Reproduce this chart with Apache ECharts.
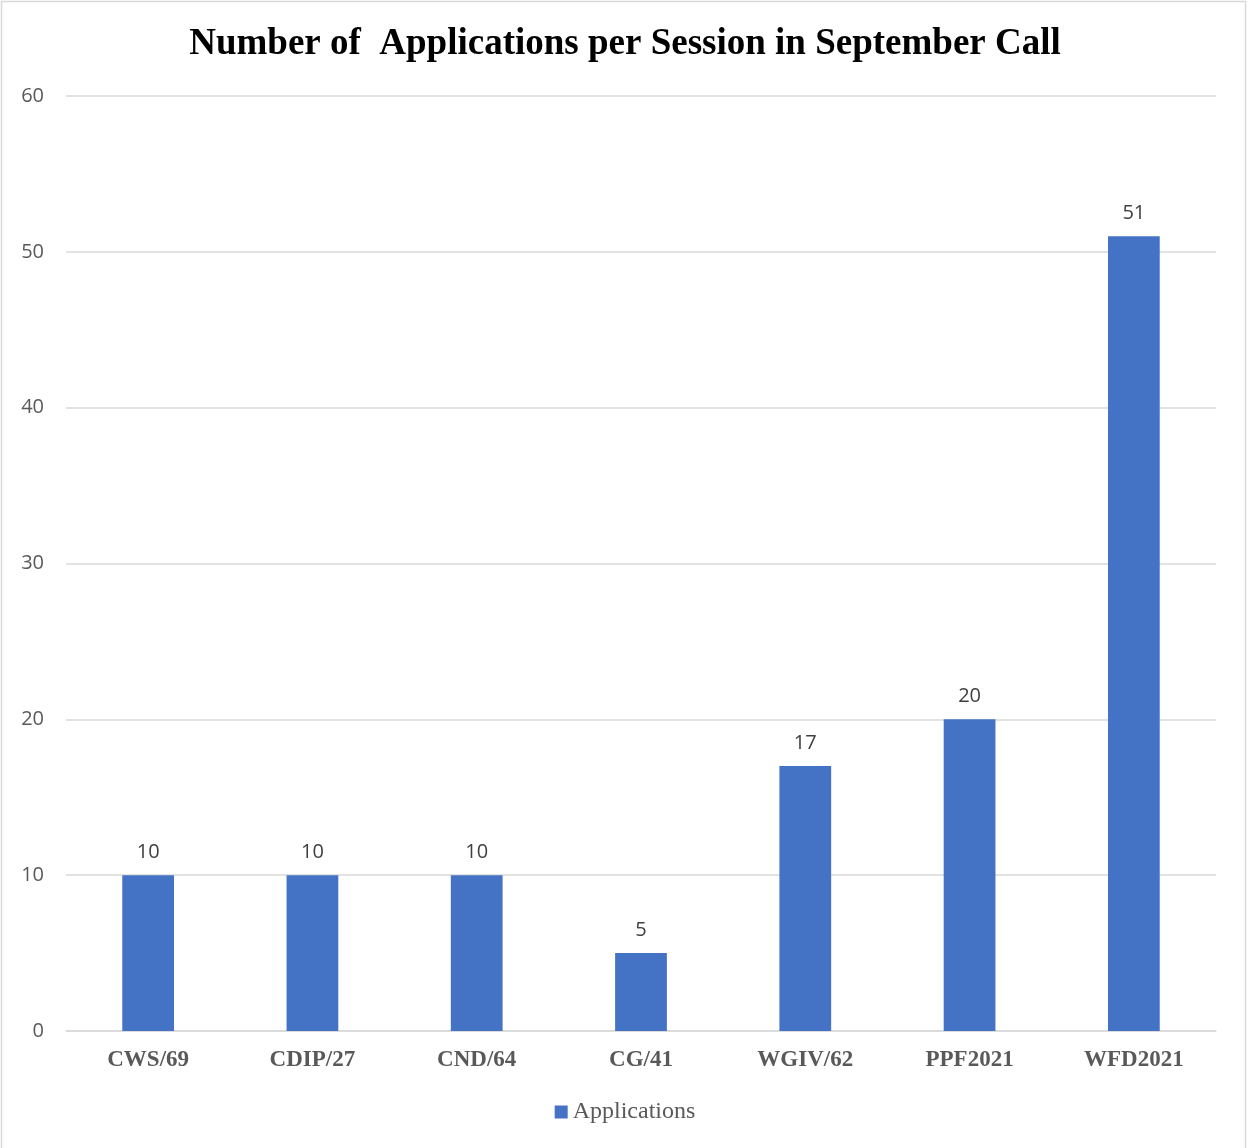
<!DOCTYPE html>
<html><head><meta charset="utf-8">
<script src="https://cdn.jsdelivr.net/npm/echarts@6/dist/echarts.min.js"></script>
<style>html,body{margin:0;padding:0;background:#fff}#c{width:1250px;height:1148px}</style>
</head><body><div id="c"></div>
<script>
const titleText = 'Number of  Applications per Session in September Call';
const categories = ['CWS/69','CDIP/27','CND/64','CG/41','WGIV/62','PPF2021','WFD2021'];
const seriesName = 'Applications';
const values = [10,10,10,5,17,20,51];
const yTicks = {min:0, max:60, interval:10};

const chart = echarts.init(document.getElementById('c'));
chart.setOption({
  animation:false,
  backgroundColor:'#fff',
  graphic:[{type:'rect',shape:{x:1.5,y:1.5,width:1244,height:1150},style:{fill:'none',stroke:'#d9d9d9',lineWidth:1.5},silent:true}],
  title:{text:titleText,left:'center',top:21,textStyle:{fontFamily:'Liberation Serif',fontWeight:'bold',fontSize:37,color:'#000'}},
  legend:{data:[seriesName],bottom:19,left:'center',itemWidth:13,itemHeight:13,itemGap:3,icon:'rect',
    textStyle:{fontFamily:'Liberation Serif',fontSize:24,color:'#595959'}},
  grid:{left:66,right:34,top:96,bottom:117},
  xAxis:{type:'category',data:categories,axisTick:{show:false},
    axisLine:{lineStyle:{color:'#d9d9d9',width:1.5}},
    axisLabel:{margin:18,fontFamily:'Liberation Serif',fontWeight:'bold',fontSize:23,color:'#595959'}},
  yAxis:{type:'value',min:yTicks.min,max:yTicks.max,interval:yTicks.interval,
    axisLine:{show:false},axisTick:{show:false},
    splitLine:{lineStyle:{color:'#d9d9d9',width:1.5}},
    axisLabel:{margin:22,fontFamily:'Open Sans',fontSize:20,color:'#595959'}},
  series:[{name:seriesName,type:'bar',data:values,barWidth:'31.5%',
    itemStyle:{color:'#4472c4'},
    label:{show:true,position:'top',distance:13,fontFamily:'Open Sans',fontSize:20,color:'#404040'}}]
});
</script></body></html>
